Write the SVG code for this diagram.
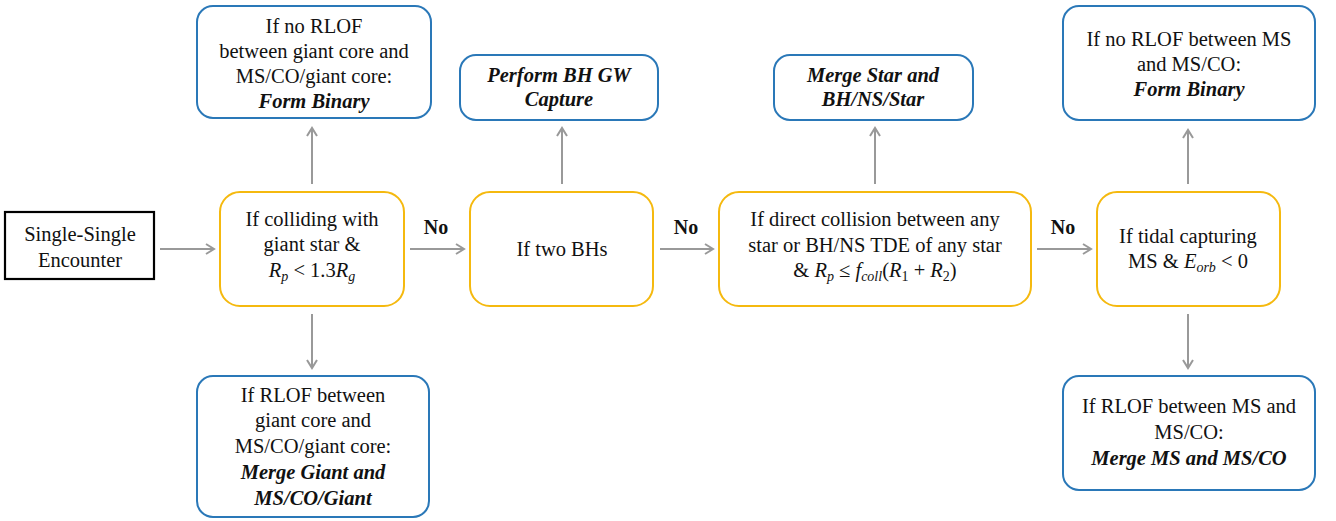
<svg xmlns="http://www.w3.org/2000/svg" width="1336" height="521" viewBox="0 0 1336 521" font-family="Liberation Serif, Tinos, DejaVu Serif, serif">
<style>
text{font-size:20.5px;fill:#111;text-anchor:middle}
.b{font-weight:bold;font-style:italic}
.i{font-style:italic}
.lbl{font-weight:bold;font-size:20px}
.cond{fill:#fff;stroke:#F5B90F;stroke-width:2}
.res{fill:#fff;stroke:#2A78B8;stroke-width:2}
.start{fill:#fff;stroke:#000;stroke-width:2.2}
.arr{stroke:#999;stroke-width:2;fill:none;marker-end:url(#ah)}
</style>
<defs>
<marker id="ah" viewBox="0 0 12 12" refX="10" refY="6" markerWidth="12" markerHeight="12" markerUnits="userSpaceOnUse" orient="auto">
<path d="M2,1 L10,6 L2,11" fill="none" stroke="#999" stroke-width="2"/>
</marker>
</defs>
<rect width="1336" height="521" fill="#fff"/>
<g id="connectors">
<line class="arr" x1="160" y1="249" x2="214" y2="249"/>
<line class="arr" x1="410" y1="249" x2="464" y2="249"/>
<line class="arr" x1="660" y1="249" x2="713" y2="249"/>
<line class="arr" x1="1037" y1="249" x2="1091" y2="249"/>
<line class="arr" x1="312" y1="184" x2="312" y2="128"/>
<line class="arr" x1="312" y1="314" x2="312" y2="368"/>
<line class="arr" x1="562" y1="184" x2="562" y2="128"/>
<line class="arr" x1="875" y1="184" x2="875" y2="128"/>
<line class="arr" x1="1188" y1="184" x2="1188" y2="130"/>
<line class="arr" x1="1188" y1="314" x2="1188" y2="368"/>
<text class="lbl" x="436" y="234">No</text>
<text class="lbl" x="686" y="234">No</text>
<text class="lbl" x="1063" y="234">No</text>
</g>
<g id="start">
<rect class="start" x="5" y="212" width="149" height="67"/>
<text x="80" y="241">Single-Single</text>
<text x="80" y="267">Encounter</text>
</g>
<g id="giant">
<rect class="cond" x="220" y="192" width="184" height="114" rx="20"/>
<text x="312" y="226">If colliding with</text>
<text x="312" y="251">giant star &amp;</text>
<text x="312" y="277"><tspan class="i">R</tspan><tspan class="i" font-size="14" dy="4">p</tspan><tspan dy="-4"> &lt; 1.3</tspan><tspan class="i">R</tspan><tspan class="i" font-size="14" dy="4">g</tspan></text>
</g>
<g id="twobh">
<rect class="cond" x="470" y="192" width="183" height="114" rx="20"/>
<text x="562" y="256">If two BHs</text>
</g>
<g id="collision">
<rect class="cond" x="719" y="192" width="312" height="114" rx="20"/>
<text x="875" y="226">If direct collision between any</text>
<text x="875" y="252">star or BH/NS TDE of any star</text>
<text x="875" y="277">&amp; <tspan class="i">R</tspan><tspan class="i" font-size="14" dy="4">p</tspan><tspan dy="-4"> ≤ </tspan><tspan class="i">f</tspan><tspan class="i" font-size="14" dy="4">coll</tspan><tspan dy="-4">(</tspan><tspan class="i">R</tspan><tspan font-size="14" dy="4">1</tspan><tspan dy="-4"> + </tspan><tspan class="i">R</tspan><tspan font-size="14" dy="4">2</tspan><tspan dy="-4">)</tspan></text>
</g>
<g id="tidal">
<rect class="cond" x="1097" y="192" width="183" height="114" rx="20"/>
<text x="1188" y="243">If tidal capturing</text>
<text x="1188" y="268">MS &amp; <tspan class="i">E</tspan><tspan class="i" font-size="14" dy="4">orb</tspan><tspan dy="-4"> &lt; 0</tspan></text>
</g>
<g id="formbinary1">
<rect class="res" x="197" y="6" width="234" height="112" rx="16"/>
<text x="314" y="33">If no RLOF</text>
<text x="314" y="58">between giant core and</text>
<text x="314" y="83">MS/CO/giant core:</text>
<text class="b" x="314" y="108">Form Binary</text>
</g>
<g id="mergegiant">
<rect class="res" x="197" y="376" width="232" height="141" rx="16"/>
<text x="313" y="402">If RLOF between</text>
<text x="313" y="427">giant core and</text>
<text x="313" y="453">MS/CO/giant core:</text>
<text class="b" x="313" y="479">Merge Giant and</text>
<text class="b" x="313" y="505">MS/CO/Giant</text>
</g>
<g id="gwcapture">
<rect class="res" x="460" y="55" width="198" height="65" rx="16"/>
<text class="b" x="559" y="82">Perform BH GW</text>
<text class="b" x="559" y="106">Capture</text>
</g>
<g id="mergestar">
<rect class="res" x="774" y="55" width="199" height="65" rx="16"/>
<text class="b" x="873" y="82">Merge Star and</text>
<text class="b" x="873" y="106">BH/NS/Star</text>
</g>
<g id="formbinary2">
<rect class="res" x="1063" y="6" width="252" height="114" rx="16"/>
<text x="1189" y="46">If no RLOF between MS</text>
<text x="1189" y="71">and MS/CO:</text>
<text class="b" x="1189" y="96">Form Binary</text>
</g>
<g id="mergems">
<rect class="res" x="1063" y="376" width="252" height="114" rx="16"/>
<text x="1189" y="413">If RLOF between MS and</text>
<text x="1189" y="439">MS/CO:</text>
<text class="b" x="1189" y="465">Merge MS and MS/CO</text>
</g>
</svg>
